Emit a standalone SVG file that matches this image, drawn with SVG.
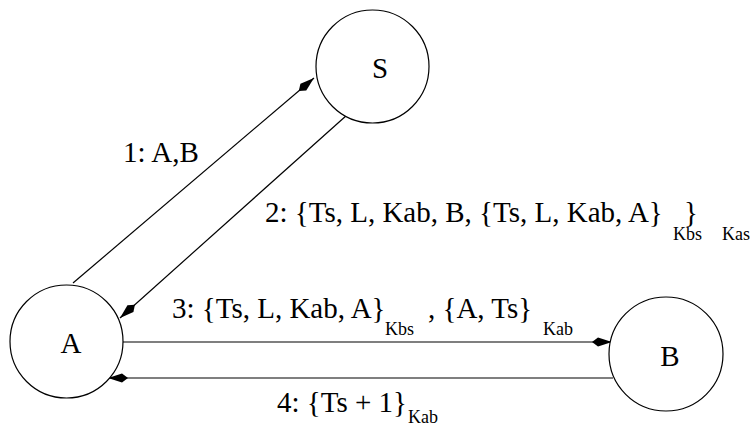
<svg xmlns="http://www.w3.org/2000/svg" width="754" height="433" viewBox="0 0 754 433">
<style>
.node{fill:#fff;stroke:#000;stroke-width:1.2}
.edge{fill:none;stroke:#000;stroke-width:1.2}
text{font-family:"Liberation Serif","Times New Roman",serif;fill:#000}
.lbl{font-size:29px}
.sub{font-size:18px}
</style>
<defs>
<marker id="ah" viewBox="0 0 20 10" refX="20" refY="5" markerWidth="20" markerHeight="10" markerUnits="userSpaceOnUse" orient="auto">
<path d="M20,5 L6,0.5 L0,5 L6,9.5 Z" fill="#000"/>
</marker>
</defs>
<g id="edges">
<line class="edge" x1="73" y1="283" x2="314" y2="78" marker-end="url(#ah)"/>
<line class="edge" x1="347" y1="115" x2="120" y2="318" marker-end="url(#ah)"/>
<line class="edge" x1="123" y1="342" x2="612" y2="342" marker-end="url(#ah)"/>
<line class="edge" x1="613" y1="378" x2="108" y2="378" marker-end="url(#ah)"/>
</g>
<g id="S"><circle class="node" cx="372.5" cy="66.5" r="56.5"/><text class="lbl" x="380" y="78" text-anchor="middle">S</text></g>
<g id="A"><circle class="node" cx="66.5" cy="341.5" r="56.5"/><text class="lbl" x="71" y="353" text-anchor="middle">A</text></g>
<g id="B"><circle class="node" cx="666" cy="354" r="57"/><text class="lbl" x="670" y="366" text-anchor="middle">B</text></g>
<g id="labels">
<text class="lbl" x="123" y="162">1: A,B</text>
<text class="lbl" x="265" y="222">2: {Ts, L, Kab, B, {Ts, L, Kab, A}</text>
<text class="sub" x="673" y="240">Kbs</text>
<text class="lbl" x="684" y="222">}</text>
<text class="sub" x="722" y="240">Kas</text>
<text class="lbl" x="172" y="318">3: {Ts, L, Kab, A}</text>
<text class="sub" x="385" y="335">Kbs</text>
<text class="lbl" x="428" y="318">, {A, Ts}</text>
<text class="sub" x="543" y="335">Kab</text>
<text class="lbl" x="277" y="412">4: {Ts + 1}</text>
<text class="sub" x="408" y="423">Kab</text>
</g>
</svg>
